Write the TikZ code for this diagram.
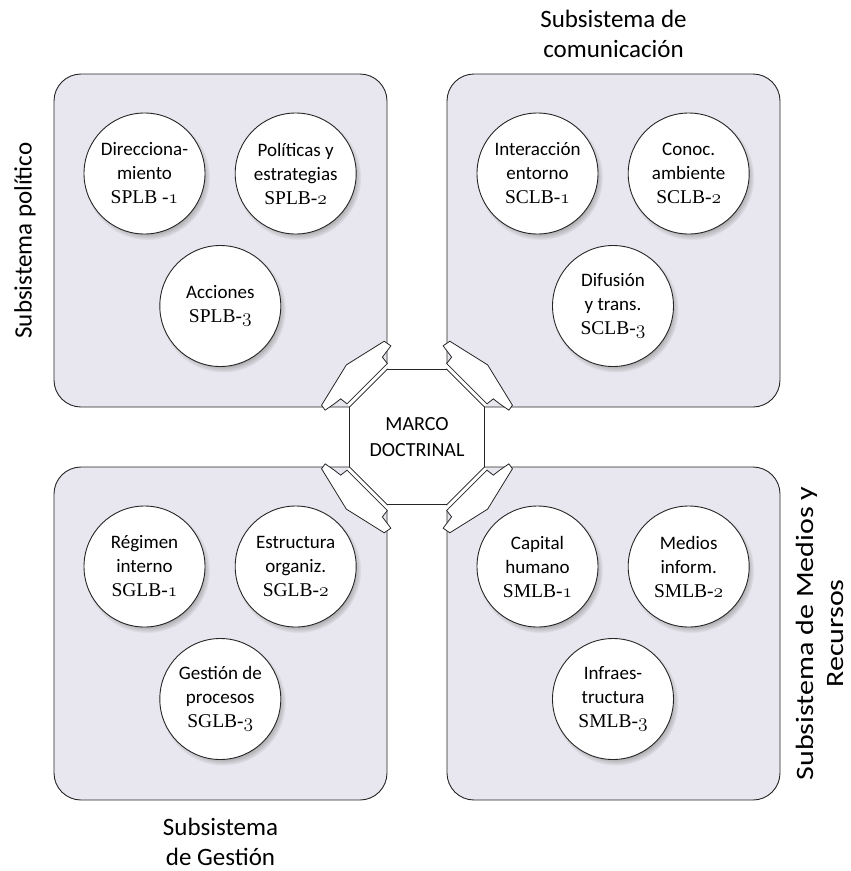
\RequirePackage{fix-cm}
\documentclass[tikz,border=0pt]{standalone}
\usepackage{fontspec}
\usepackage{graphicx}
\setsansfont{Carlito}
\newfontfamily\codefont{Liberation Serif}
\usetikzlibrary{shadows}
\definecolor{boxfill}{HTML}{E8E6EE}
\definecolor{edge}{HTML}{262626}
\newcommand\osn[1]{\ensuremath{\mathnormal{#1}}}
\newcommand\cod[1]{{\codefont\fontsize{19.5}{24}\selectfont #1}}
\newcommand\hp[2]{({\hMx+(#1)*(\hux)+(#2)*(\hnx)},{\hMy+(#1)*(\huy)+(#2)*(\hny)})}
\newcommand\handat[6]{%
  \def\hMx{#1}\def\hMy{#2}\def\hux{#3}\def\huy{#4}\def\hnx{#5}\def\hny{#6}%
  \fill[white] \hp{-31}{0.6} -- \hp{26}{0.6} -- \hp{26}{4} -- \hp{-31}{4} -- cycle;
  \draw[handst] \hp{-44.5}{22} -- \hp{-46}{14} -- \hp{-32}{12} -- \hp{-31}{4}
     -- \hp{26}{4} -- \hp{27}{12} -- \hp{35}{13} -- \hp{46}{15} -- \hp{45}{21}
     -- \hp{-1}{32} -- cycle;}
\tikzset{
  sub/.style={draw=edge, line width=0.9pt, fill=boxfill, rounded corners=27pt,
    minimum width=333pt, minimum height=333pt, inner sep=0pt},
  circ/.style={circle, draw=edge, line width=0.9pt, fill=white, minimum size=121pt,
    inner sep=0pt, align=center, font=\sffamily\fontsize{19}{24}\selectfont,
    circular drop shadow={shadow xshift=2.5pt, shadow yshift=-3.5pt, shadow scale=1.04, opacity=0.75}},
  lab/.style={align=center, font=\sffamily\fontsize{25}{30}\selectfont, inner sep=0pt},
  oct/.style={draw=edge, line width=0.9pt, fill=white, line join=miter},
  handst/.style={draw=edge, line width=0.8pt, fill=white, line join=miter},
}
\begin{document}
\begin{tikzpicture}[x=1pt,y=-1pt]
\useasboundingbox (0,0) rectangle (851,871);
% subsystem boxes
\node[sub] (boxTL) at (220.5,240.5) {};
\node[sub] (boxTR) at (613.5,240.5) {};
\node[sub] (boxBL) at (220.5,633.5) {};
\node[sub] (boxBR) at (613.5,633.5) {};
% central octagon
\draw[oct] (387,369.5) -- (447,369.5) -- (484.5,407) -- (484.5,467) -- (447,504.5)
  -- (387,504.5) -- (349.5,467) -- (349.5,407) -- cycle;
\node[align=center, font=\sffamily\fontsize{20}{26}\selectfont] (marco) at (417,437) {MARCO\\DOCTRINAL};
% clamps
\handat{368.25}{388.25}{-0.7071}{0.7071}{-0.7071}{-0.7071}
\handat{465.75}{388.25}{0.7071}{0.7071}{0.7071}{-0.7071}
\handat{368.25}{485.75}{-0.7071}{-0.7071}{-0.7071}{0.7071}
\handat{465.75}{485.75}{0.7071}{-0.7071}{0.7071}{0.7071}
% circles top-left
\node[circ] (sp1) at (144.5,173.5) {Direcciona-\\miento\\\cod{SPLB -\osn{1}}};
\node[circ] (sp2) at (295.7,173.5) {Políticas y\\estrategias\\\cod{SPLB-\osn{2}}};
\node[circ] (sp3) at (220.3,306) {Acciones\\\cod{SPLB-\osn{3}}};
% circles top-right
\node[circ] (sc1) at (537.5,173.5) {Interacción\\entorno\\\cod{SCLB-\osn{1}}};
\node[circ] (sc2) at (688.7,173.5) {Conoc.\\ambiente\\\cod{SCLB-\osn{2}}};
\node[circ] (sc3) at (613,306) {Difusión\\y trans.\\\cod{SCLB-\osn{3}}};
% circles bottom-left
\node[circ] (sg1) at (144.5,566.5) {Régimen\\interno\\\cod{SGLB-\osn{1}}};
\node[circ] (sg2) at (295.7,566.5) {Estructura\\organiz.\\\cod{SGLB-\osn{2}}};
\node[circ] (sg3) at (220.3,699) {Gestión de\\procesos\\\cod{SGLB-\osn{3}}};
% circles bottom-right
\node[circ] (sm1) at (537.5,566.5) {Capital\\humano\\\cod{SMLB-\osn{1}}};
\node[circ] (sm2) at (688.7,566.5) {Medios\\inform.\\\cod{SMLB-\osn{2}}};
\node[circ] (sm3) at (613,699) {Infraes-\\tructura\\\cod{SMLB-\osn{3}}};
% labels
\node[lab] (labC) at (613.5,34) {Subsistema de\\comunicación};
\node[lab] (labG) at (220.5,842) {Subsistema\\de Gestión};
\node[lab, rotate=90] (labP) at (25,240.5) {Subsistema político};
\node[lab, rotate=90] (labM) at (822,633.5) {\scalebox{1.2}[1]{\begin{tabular}{@{}c@{}}Subsistema de Medios y\\Recursos\end{tabular}}};
\end{tikzpicture}
\end{document}
